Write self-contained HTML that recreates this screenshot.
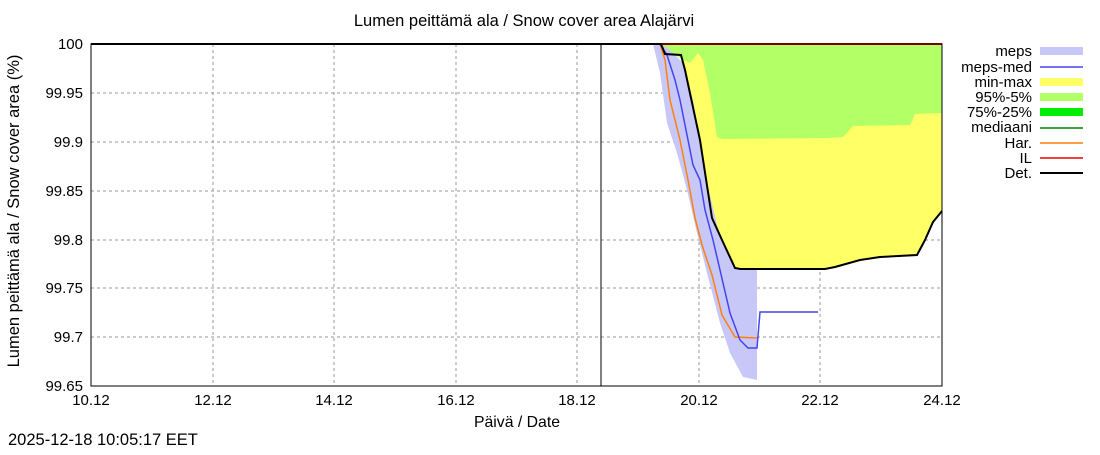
<!DOCTYPE html>
<html><head><meta charset="utf-8"><style>
body{margin:0;background:#fff}
svg text{font-family:"Liberation Sans",sans-serif;font-size:15px;fill:#000}
.big{font-size:16.5px}
.mid{font-size:15.8px}
</style></head><body>
<svg width="1100" height="450" xmlns="http://www.w3.org/2000/svg">
<rect width="1100" height="450" fill="#fff"/>
<text class="big" x="524" y="26" text-anchor="middle">Lumen peittämä ala / Snow cover area Alajärvi</text>
<g stroke="#999" stroke-dasharray="3,3" stroke-width="1">
<line x1="91" y1="93" x2="942" y2="93"/><line x1="91" y1="142" x2="942" y2="142"/>
<line x1="91" y1="191" x2="942" y2="191"/><line x1="91" y1="240" x2="942" y2="240"/>
<line x1="91" y1="288" x2="942" y2="288"/><line x1="91" y1="337" x2="942" y2="337"/>
<line x1="213" y1="44" x2="213" y2="386"/><line x1="334" y1="44" x2="334" y2="386"/>
<line x1="456" y1="44" x2="456" y2="386"/><line x1="577" y1="44" x2="577" y2="386"/>
<line x1="699" y1="44" x2="699" y2="386"/><line x1="820" y1="44" x2="820" y2="386"/>
</g>
<polygon fill="#ffff66" points="661,44 942,44 942,211 933,222 925,240 917,255 880,257 860,260 835,267 825,269 740,269 735,268 722,240 712,218 700,140 685,70 681,55 665,54"/>
<polygon fill="#b3ff66" points="663,44 942,44 942,113 915,114 910,125 853,126 843,137 827,138 722,139 717,137 710,93 703,60 698,53 690,63 683,60 680,58 667,50"/>
<polygon fill="#c8c8f8" points="653,44 663,45 673,53 683,63 693,100 707,183 720,237 735,267 737,270 757,270 757,380 743,377 730,353 720,323 707,273 697,233 687,190 677,153 667,123 660,73"/>
<polyline fill="none" stroke="#ff7f0e" stroke-width="1.5" points="660,44 665,60 670,100 680,140 688,180 695,218 702,245 712,275 722,315 735,337 757,338"/>
<polyline fill="none" stroke="#4444ee" stroke-width="1.5" points="660,44 667,55 675,80 680,100 688,140 693,165 700,180 705,210 713,240 720,270 730,313 740,340 748,348 757,348 760,312 818,312"/>
<line x1="660" y1="44" x2="942" y2="44" stroke="#e00" stroke-width="2"/>
<polyline fill="none" stroke="#000" stroke-width="2" points="91,44 661,44 665,54 681,55 685,70 700,140 712,218 722,240 735,268 740,269 825,269 835,267 860,260 880,257 917,255 925,240 933,222 942,211"/>
<line x1="601" y1="44" x2="601" y2="386" stroke="#000" stroke-width="1"/>
<rect x="91" y="44" width="851" height="342" fill="none" stroke="#000" stroke-width="1"/>
<g text-anchor="end">
<text x="83" y="49">100</text><text x="83" y="98">99.95</text><text x="83" y="147">99.9</text>
<text x="83" y="196">99.85</text><text x="83" y="245">99.8</text><text x="83" y="293">99.75</text>
<text x="83" y="342">99.7</text><text x="83" y="391">99.65</text>
</g>
<g text-anchor="middle">
<text x="91" y="405">10.12</text><text x="213" y="405">12.12</text><text x="334" y="405">14.12</text>
<text x="456" y="405">16.12</text><text x="577" y="405">18.12</text><text x="699" y="405">20.12</text>
<text x="820" y="405">22.12</text><text x="942" y="405">24.12</text>
<text class="mid" x="517" y="427">Päivä / Date</text>
</g>
<text class="big" transform="translate(19,211) rotate(-90)" text-anchor="middle">Lumen peittämä ala / Snow cover area (%)</text>
<text class="big" x="8" y="445">2025-12-18 10:05:17 EET</text>
<g text-anchor="end" class="mid">
<text x="1032" y="56">meps</text><text x="1032" y="72">meps-med</text><text x="1032" y="87">min-max</text>
<text x="1032" y="102">95%-5%</text><text x="1032" y="117">75%-25%</text><text x="1032" y="132">mediaani</text>
<text x="1032" y="148">Har.</text><text x="1032" y="163">IL</text><text x="1032" y="178">Det.</text>
</g>
<rect x="1040" y="47" width="43" height="8" fill="#c8c8f8"/>
<line x1="1040" y1="67" x2="1083" y2="67" stroke="#4444ee" stroke-width="1.5"/>
<rect x="1040" y="78" width="43" height="8" fill="#ffff66"/>
<rect x="1040" y="93" width="43" height="8" fill="#b3ff66"/>
<rect x="1040" y="108" width="43" height="8" fill="#00ee00"/>
<line x1="1040" y1="128" x2="1083" y2="128" stroke="#008000" stroke-width="1.5"/>
<line x1="1040" y1="143" x2="1083" y2="143" stroke="#ff7f0e" stroke-width="1.5"/>
<line x1="1040" y1="158" x2="1083" y2="158" stroke="#e00" stroke-width="1.5"/>
<line x1="1040" y1="173" x2="1083" y2="173" stroke="#000" stroke-width="2"/>
</svg>
</body></html>
